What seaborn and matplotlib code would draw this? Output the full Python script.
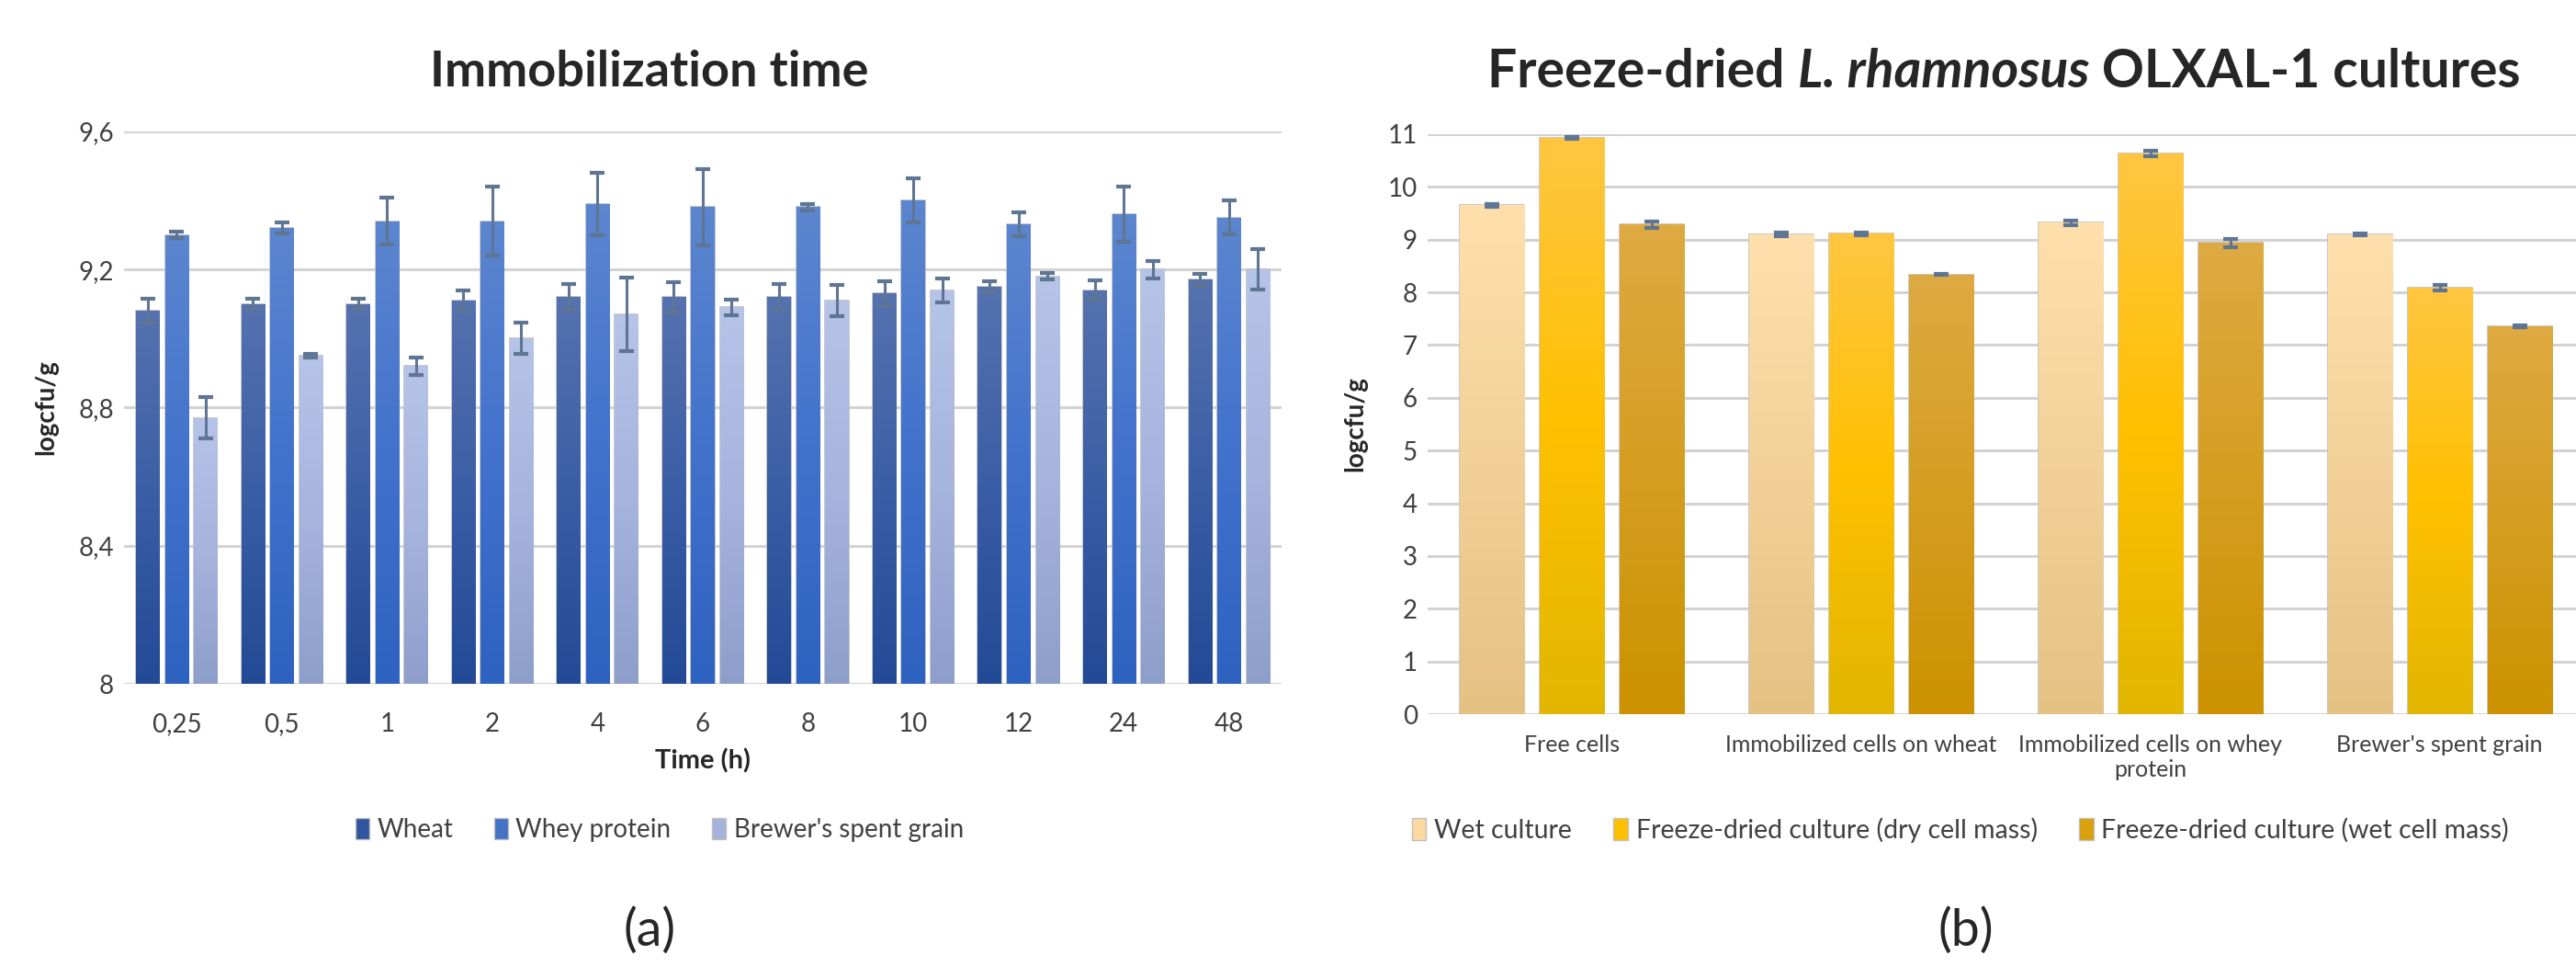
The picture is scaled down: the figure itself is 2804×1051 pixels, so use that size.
import numpy as np
import pandas as pd
import matplotlib
matplotlib.use('Agg')
import matplotlib.pyplot as plt
import seaborn as sns
from matplotlib.colors import LinearSegmentedColormap
from matplotlib.patches import Patch

# (a) immobilization time
times = ['0,25', '0,5', '1', '2', '4', '6', '8', '10', '12', '24', '48']
supports = ['Wheat', 'Whey protein', "Brewer's spent grain"]
wheat = [9.08, 9.10, 9.10, 9.11, 9.12, 9.12, 9.12, 9.13, 9.15, 9.14, 9.17]
wheat_sd = [0.035, 0.014, 0.014, 0.03, 0.037, 0.044, 0.037, 0.037, 0.015, 0.028, 0.017]
whey = [9.30, 9.32, 9.34, 9.34, 9.39, 9.38, 9.38, 9.40, 9.33, 9.36, 9.35]
whey_sd = [0.01, 0.016, 0.068, 0.10, 0.09, 0.11, 0.009, 0.065, 0.035, 0.079, 0.049]
bsg = [8.77, 8.95, 8.92, 9.00, 9.07, 9.09, 9.11, 9.14, 9.18, 9.20, 9.20]
bsg_sd = [0.06, 0.005, 0.025, 0.045, 0.107, 0.023, 0.045, 0.035, 0.009, 0.025, 0.058]

# (b) freeze-dried cultures
cells = ['Free cells', 'Immobilized cells on wheat',
         'Immobilized cells on whey\nprotein', "Brewer's spent grain"]
cultures = ['Wet culture', 'Freeze-dried culture (dry cell mass)',
            'Freeze-dried culture (wet cell mass)']
wet = [9.65, 9.10, 9.32, 9.10]
wet_sd = [0.03, 0.03, 0.04, 0.02]
dry = [10.93, 9.11, 10.63, 8.09]
dry_sd = [0.02, 0.03, 0.05, 0.05]
wetmass = [9.29, 8.34, 8.94, 7.36]
wetmass_sd = [0.06, 0.01, 0.08, 0.02]

blue_cols = ['#2F559F', '#4472C4', '#A5B3DC']
blue_grad = [['#5672AF', '#3A5EA6', '#234A96'], ['#5C86CF', '#4272CC', '#2E62C0'],
             ['#B6C4E8', '#A6B4DE', '#8E9ECB']]
gold_cols = ['#FCD9A0', '#FFC000', '#D9A20C']
gold_grad = [['#FFE0AC', '#E5C184'], ['#FFC642', '#FFC000', '#E2B600'], ['#DEAA42', '#CC9200']]

sns.set_theme(style='white')
plt.rcParams['font.family'] = ['Lato', 'DejaVu Sans']

fig = plt.figure(figsize=(28.04, 10.51), dpi=100)
ax1 = fig.add_axes([0.0481, 0.2921, 0.4494, 0.572])
ax2 = fig.add_axes([0.5542, 0.2607, 0.449, 0.6004])


def gradient_bars(ax, grads, errs, ymin):
    for cont, stops, err in zip(ax.containers, grads, errs):
        cmap = LinearSegmentedColormap.from_list('g', stops[::-1])
        xs, ys = [], []
        for bar in cont:
            top = bar.get_y() + bar.get_height()
            bar.set_y(ymin)
            bar.set_height(top - ymin)
            x0, w = bar.get_x(), bar.get_width()
            bar.set_edgecolor('#BFBFBF')
            bar.set_linewidth(1.2)
            im = ax.imshow(np.linspace(0, 1, 256).reshape(-1, 1), cmap=cmap,
                           extent=[x0, x0 + w, ymin, top], origin='lower',
                           aspect='auto', zorder=bar.get_zorder() + 0.1)
            im.set_clip_path(bar)
            xs.append(x0 + w / 2)
            ys.append(top)
        ax.errorbar(xs, ys, yerr=err, fmt='none', ecolor='#5E7594',
                    elinewidth=2.2, capsize=6, capthick=3, zorder=5)


def style_axes(ax, ylim, yticks, ylabels):
    ax.set_ylim(*ylim)
    ax.set_yticks(yticks)
    ax.set_yticklabels(ylabels)
    ax.grid(axis='y', color='#D3D3D3', linewidth=2.2, zorder=0)
    ax.set_axisbelow(True)
    sns.despine(ax=ax, left=True, bottom=True)
    ax.tick_params(length=0, labelsize=20, colors='#404040', pad=8)
    ax.set_ylabel('logcfu/g', fontsize=20, fontweight='bold', labelpad=16)


df_a = pd.DataFrame({
    'time': times * 3,
    'support': np.repeat(supports, len(times)),
    'value': wheat + whey + bsg,
})
sns.barplot(data=df_a, x='time', y='value', hue='support', hue_order=supports,
            palette=blue_cols, width=0.825, gap=0.2, errorbar=None,
            legend=False, ax=ax1)
gradient_bars(ax1, blue_grad, [wheat_sd, whey_sd, bsg_sd], 8)
ax1.set_xlim(-0.5, len(times) - 0.5)
style_axes(ax1, (8, 9.6), [8, 8.4, 8.8, 9.2, 9.6], ['8', '8,4', '8,8', '9,2', '9,6'])
ax1.tick_params(axis='x', pad=22)
ax1.set_xlabel('Time (h)', fontsize=21, fontweight='bold', labelpad=10)

df_b = pd.DataFrame({
    'cells': cells * 3,
    'culture': np.repeat(cultures, len(cells)),
    'value': wet + dry + wetmass,
})
sns.barplot(data=df_b, x='cells', y='value', hue='culture', hue_order=cultures,
            palette=gold_cols, width=0.829, gap=0.195, errorbar=None,
            legend=False, ax=ax2)
gradient_bars(ax2, gold_grad, [wet_sd, dry_sd, wetmass_sd], 0)
ax2.set_xlim(-0.5, len(cells) - 0.5)
style_axes(ax2, (0, 11), list(range(12)), [str(i) for i in range(12)])
ax2.set_xlabel('')
ax2.tick_params(axis='x', labelsize=18, pad=16)

# legends
h1 = [Patch(facecolor=c, edgecolor='#BFBFBF') for c in blue_cols]
fig.legend(h1, supports, loc='center', bbox_to_anchor=(0.256, 0.141), ncol=3,
           frameon=False, fontsize=20, handlelength=0.55, handleheight=0.9,
           handletextpad=0.3, columnspacing=1.6, labelcolor='#404040')
h2 = [Patch(facecolor=c, edgecolor='#BFBFBF') for c in gold_cols]
fig.legend(h2, cultures, loc='center', bbox_to_anchor=(0.761, 0.141), ncol=3,
           frameon=False, fontsize=20.5, handlelength=0.55, handleheight=0.9,
           handletextpad=0.3, columnspacing=1.6, labelcolor='#404040')

# titles
fig.text(0.252, 0.925, 'Immobilization time', ha='center', va='center',
         fontsize=39, fontweight='bold')
renderer = fig.canvas.get_renderer()
parts = [('Freeze-dried ', 'normal'), ('L. rhamnosus', 'italic'),
         (' OLXAL-1 cultures', 'normal')]
texts = [fig.text(0, 0.925, s, ha='left', va='center', fontsize=41,
                  fontweight='bold', style=st) for s, st in parts]
widths = [t.get_window_extent(renderer).width / fig.bbox.width for t in texts]
x = 0.778 - sum(widths) / 2
for t, w in zip(texts, widths):
    t.set_x(x)
    x += w

fig.text(0.252, 0.036, '(a)', ha='center', va='center', fontsize=40)
fig.text(0.763, 0.036, '(b)', ha='center', va='center', fontsize=40)

fig.savefig('out.png', dpi=100)
